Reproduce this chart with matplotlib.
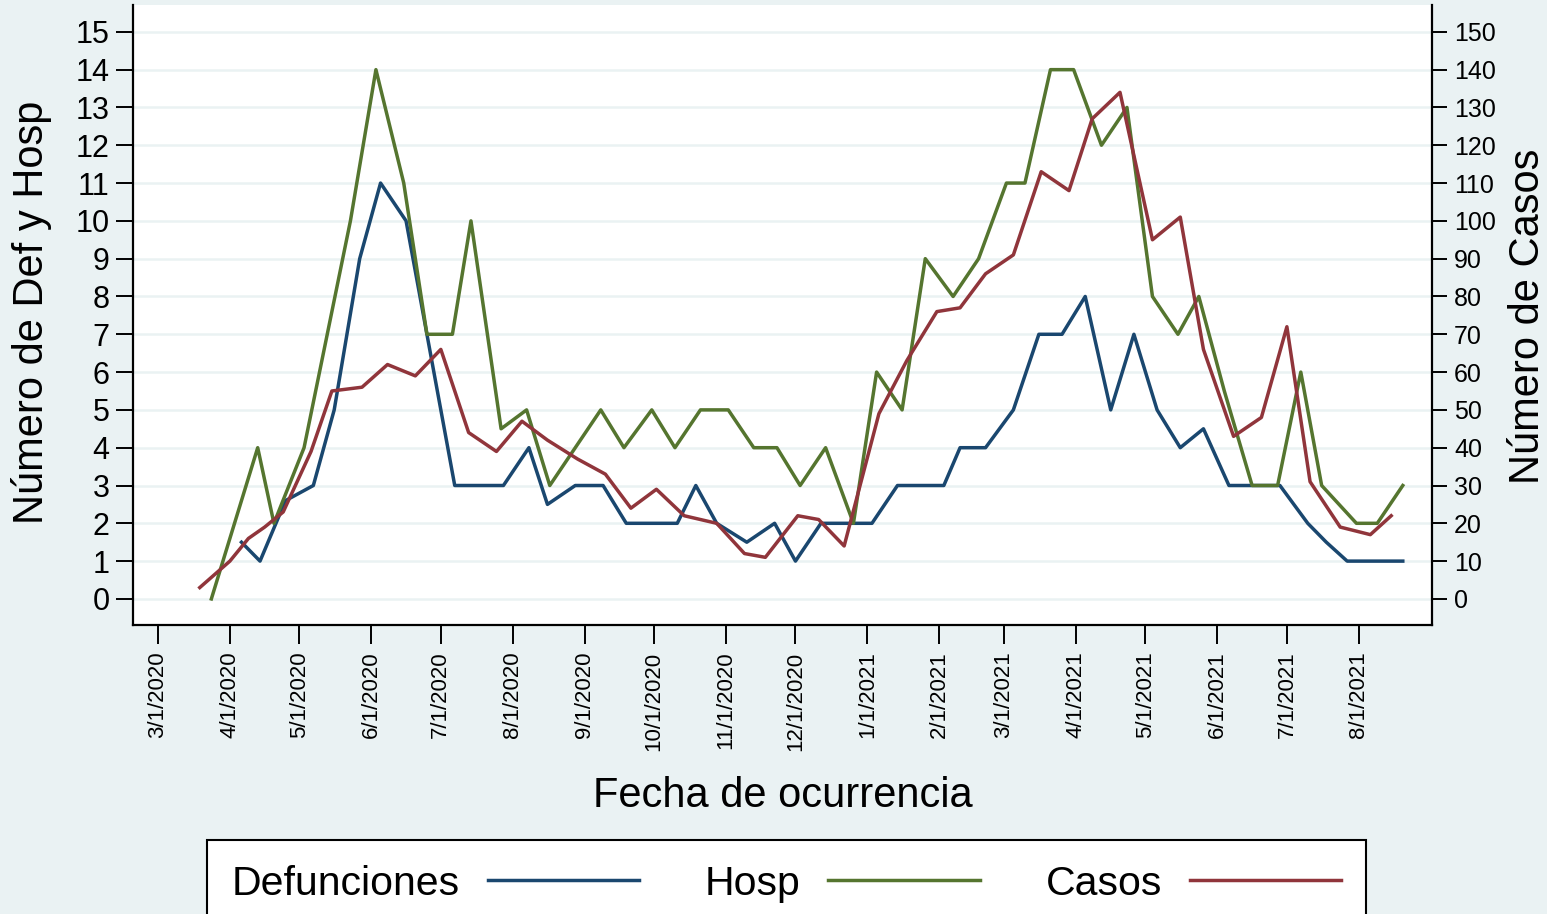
import matplotlib
matplotlib.use("Agg")
import matplotlib.pyplot as plt
import pandas as pd

plt.rcParams['font.family'] = ['Liberation Sans', 'DejaVu Sans']

BG = '#EAF2F3'
NAVY = '#1A476F'
GREEN = '#55752F'
MAROON = '#90353B'

# Defunciones (left axis)
def_dates = ['2020-04-06', '2020-04-14', '2020-04-25', '2020-05-07', '2020-05-16', '2020-05-27',
             '2020-06-05', '2020-06-16', '2020-07-07', '2020-07-17', '2020-07-28', '2020-08-08',
             '2020-08-16', '2020-08-28', '2020-09-09', '2020-09-19', '2020-09-30', '2020-10-11',
             '2020-10-19', '2020-10-28', '2020-11-10', '2020-11-22', '2020-12-01', '2020-12-12',
             '2020-12-22', '2021-01-03', '2021-01-14', '2021-01-24', '2021-02-03', '2021-02-10',
             '2021-02-21', '2021-03-05', '2021-03-16', '2021-03-26', '2021-04-05', '2021-04-16',
             '2021-04-26', '2021-05-06', '2021-05-16', '2021-05-26', '2021-06-06', '2021-06-17',
             '2021-06-28', '2021-07-10', '2021-07-18', '2021-07-27', '2021-08-08', '2021-08-20']
def_vals = [1.5, 1, 2.6, 3, 5, 9,
            11, 10, 3, 3, 3, 4,
            2.5, 3, 3, 2, 2, 2,
            3, 2, 1.5, 2, 1, 2,
            2, 2, 3, 3, 3, 4,
            4, 5, 7, 7, 8, 5,
            7, 5, 4, 4.5, 3, 3,
            3, 2, 1.5, 1, 1, 1]

# Hosp (left axis)
hosp_dates = ['2020-03-24', '2020-04-13', '2020-04-20', '2020-05-03', '2020-05-13', '2020-05-23',
              '2020-06-03', '2020-06-15', '2020-06-25', '2020-07-06', '2020-07-14', '2020-07-27',
              '2020-08-07', '2020-08-17', '2020-08-28', '2020-09-08', '2020-09-18', '2020-09-30',
              '2020-10-10', '2020-10-21', '2020-11-02', '2020-11-13', '2020-11-23', '2020-12-03',
              '2020-12-14', '2020-12-26', '2021-01-05', '2021-01-16', '2021-01-26', '2021-02-07',
              '2021-02-18', '2021-03-02', '2021-03-10', '2021-03-21', '2021-03-31', '2021-04-12',
              '2021-04-23', '2021-05-04', '2021-05-15', '2021-05-24', '2021-06-04', '2021-06-16',
              '2021-06-27', '2021-07-07', '2021-07-16', '2021-07-31', '2021-08-09', '2021-08-20']
hosp_vals = [0, 4, 2, 4, 7, 10,
             14, 11, 7, 7, 10, 4.5,
             5, 3, 4, 5, 4, 5,
             4, 5, 5, 4, 4, 3,
             4, 2, 6, 5, 9, 8,
             9, 11, 11, 14, 14, 12,
             13, 8, 7, 8, 5.5, 3,
             3, 6, 3, 2, 2, 3]

# Casos (right axis)
casos_dates = ['2020-03-19', '2020-04-01', '2020-04-09', '2020-04-16', '2020-04-24', '2020-05-06',
               '2020-05-15', '2020-05-28', '2020-06-08', '2020-06-20', '2020-07-01', '2020-07-13',
               '2020-07-25', '2020-08-05', '2020-08-16', '2020-08-29', '2020-09-10', '2020-09-21',
               '2020-10-02', '2020-10-14', '2020-10-28', '2020-11-09', '2020-11-18', '2020-12-02',
               '2020-12-11', '2020-12-22', '2021-01-06', '2021-01-18', '2021-01-31', '2021-02-10',
               '2021-02-21', '2021-03-05', '2021-03-17', '2021-03-29', '2021-04-08', '2021-04-20',
               '2021-05-04', '2021-05-16', '2021-05-26', '2021-06-08', '2021-06-20', '2021-07-01',
               '2021-07-11', '2021-07-24', '2021-08-06', '2021-08-15']
casos_vals = [3, 10, 16, 19, 23, 39,
              55, 56, 62, 59, 66, 44,
              39, 47, 42, 37, 33, 24,
              29, 22, 20, 12, 11, 22,
              21, 14, 49, 63, 76, 77,
              86, 91, 113, 108, 127, 134,
              95, 101, 66, 43, 48, 72,
              31, 19, 17, 22]

month_ticks = ['2020-03-01', '2020-04-01', '2020-05-01', '2020-06-01', '2020-07-01', '2020-08-01',
               '2020-09-01', '2020-10-01', '2020-11-01', '2020-12-01', '2021-01-01', '2021-02-01',
               '2021-03-01', '2021-04-01', '2021-05-01', '2021-06-01', '2021-07-01', '2021-08-01']
month_labels = ['3/1/2020', '4/1/2020', '5/1/2020', '6/1/2020', '7/1/2020', '8/1/2020',
                '9/1/2020', '10/1/2020', '11/1/2020', '12/1/2020', '1/1/2021', '2/1/2021',
                '3/1/2021', '4/1/2021', '5/1/2021', '6/1/2021', '7/1/2021', '8/1/2021']
left_ticks = list(range(0, 16))
right_ticks = list(range(0, 151, 10))

fig = plt.figure(figsize=(15.47, 9.14), dpi=100, facecolor=BG)
W, H = 1547, 914
x0, x1, y_top, y_bot = 133, 1432, 5, 625
ax = fig.add_axes([x0 / W, 1 - y_bot / H, (x1 - x0) / W, (y_bot - y_top) / H])
ax.set_facecolor('white')
ax2 = ax.twinx()
ax2.patch.set_visible(False)

lw = 2.5
l1, = ax.plot(pd.to_datetime(def_dates), def_vals, color=NAVY, lw=lw, label='Defunciones')
l2, = ax.plot(pd.to_datetime(hosp_dates), hosp_vals, color=GREEN, lw=lw, label='Hosp')
l3, = ax2.plot(pd.to_datetime(casos_dates), casos_vals, color=MAROON, lw=lw, label='Casos')

start = pd.Timestamp('2020-03-01')
ax.set_xlim(start - pd.Timedelta(days=10.8), start + pd.Timedelta(days=549.6))
ax.set_ylim(-0.69, 15.71)
ax2.set_ylim(-6.9, 157.1)

ax.set_yticks(left_ticks)
ax2.set_yticks(right_ticks)
ax.set_xticks(pd.to_datetime(month_ticks))
ax.set_xticklabels(month_labels, rotation=90, ha='center', va='top')

ax.yaxis.grid(True, color=BG, lw=1.8)
ax.set_axisbelow(True)

for sp in ['top', 'right']:
    ax.spines[sp].set_visible(False)
for sp in ['top', 'left', 'bottom']:
    ax2.spines[sp].set_visible(False)
for a in (ax, ax2):
    for sp in a.spines.values():
        sp.set_linewidth(1.6)

ax.tick_params(axis='y', length=12, width=1.4, labelsize=22, pad=5)
ax.tick_params(axis='x', length=14, width=1.4, labelsize=16, pad=5)
ax2.tick_params(axis='y', length=11, width=1.4, labelsize=18, pad=5)

ax.set_ylabel('Número de Def y Hosp', fontsize=30)
ax.yaxis.set_label_coords(-0.078, 0.505)
ax.yaxis.label.set_va('center')
ax2.set_ylabel('Número de Casos', fontsize=30)
ax2.yaxis.set_label_coords(1.074, 0.498)
ax2.yaxis.label.set_va('center')
ax2.yaxis.label.set_rotation(90)
ax.set_xlabel('Fecha de ocurrencia', fontsize=30)
ax.xaxis.set_label_coords(0.5, -0.276)
ax.xaxis.label.set_va('center')

leg = fig.legend(handles=[l1, l2, l3], ncol=3, loc='upper left',
                 bbox_to_anchor=(207 / W, 1 - 840 / H), fontsize=29.5,
                 markerfirst=False, frameon=True, fancybox=False,
                 handlelength=3.7, handletextpad=0.68, columnspacing=1.6,
                 borderpad=0.6, borderaxespad=0)
leg.get_frame().set_edgecolor('black')
leg.get_frame().set_linewidth(1.5)
leg.get_frame().set_facecolor('white')
leg.get_frame().set_alpha(1)

fig.savefig('out.png', dpi=100, facecolor=BG)
